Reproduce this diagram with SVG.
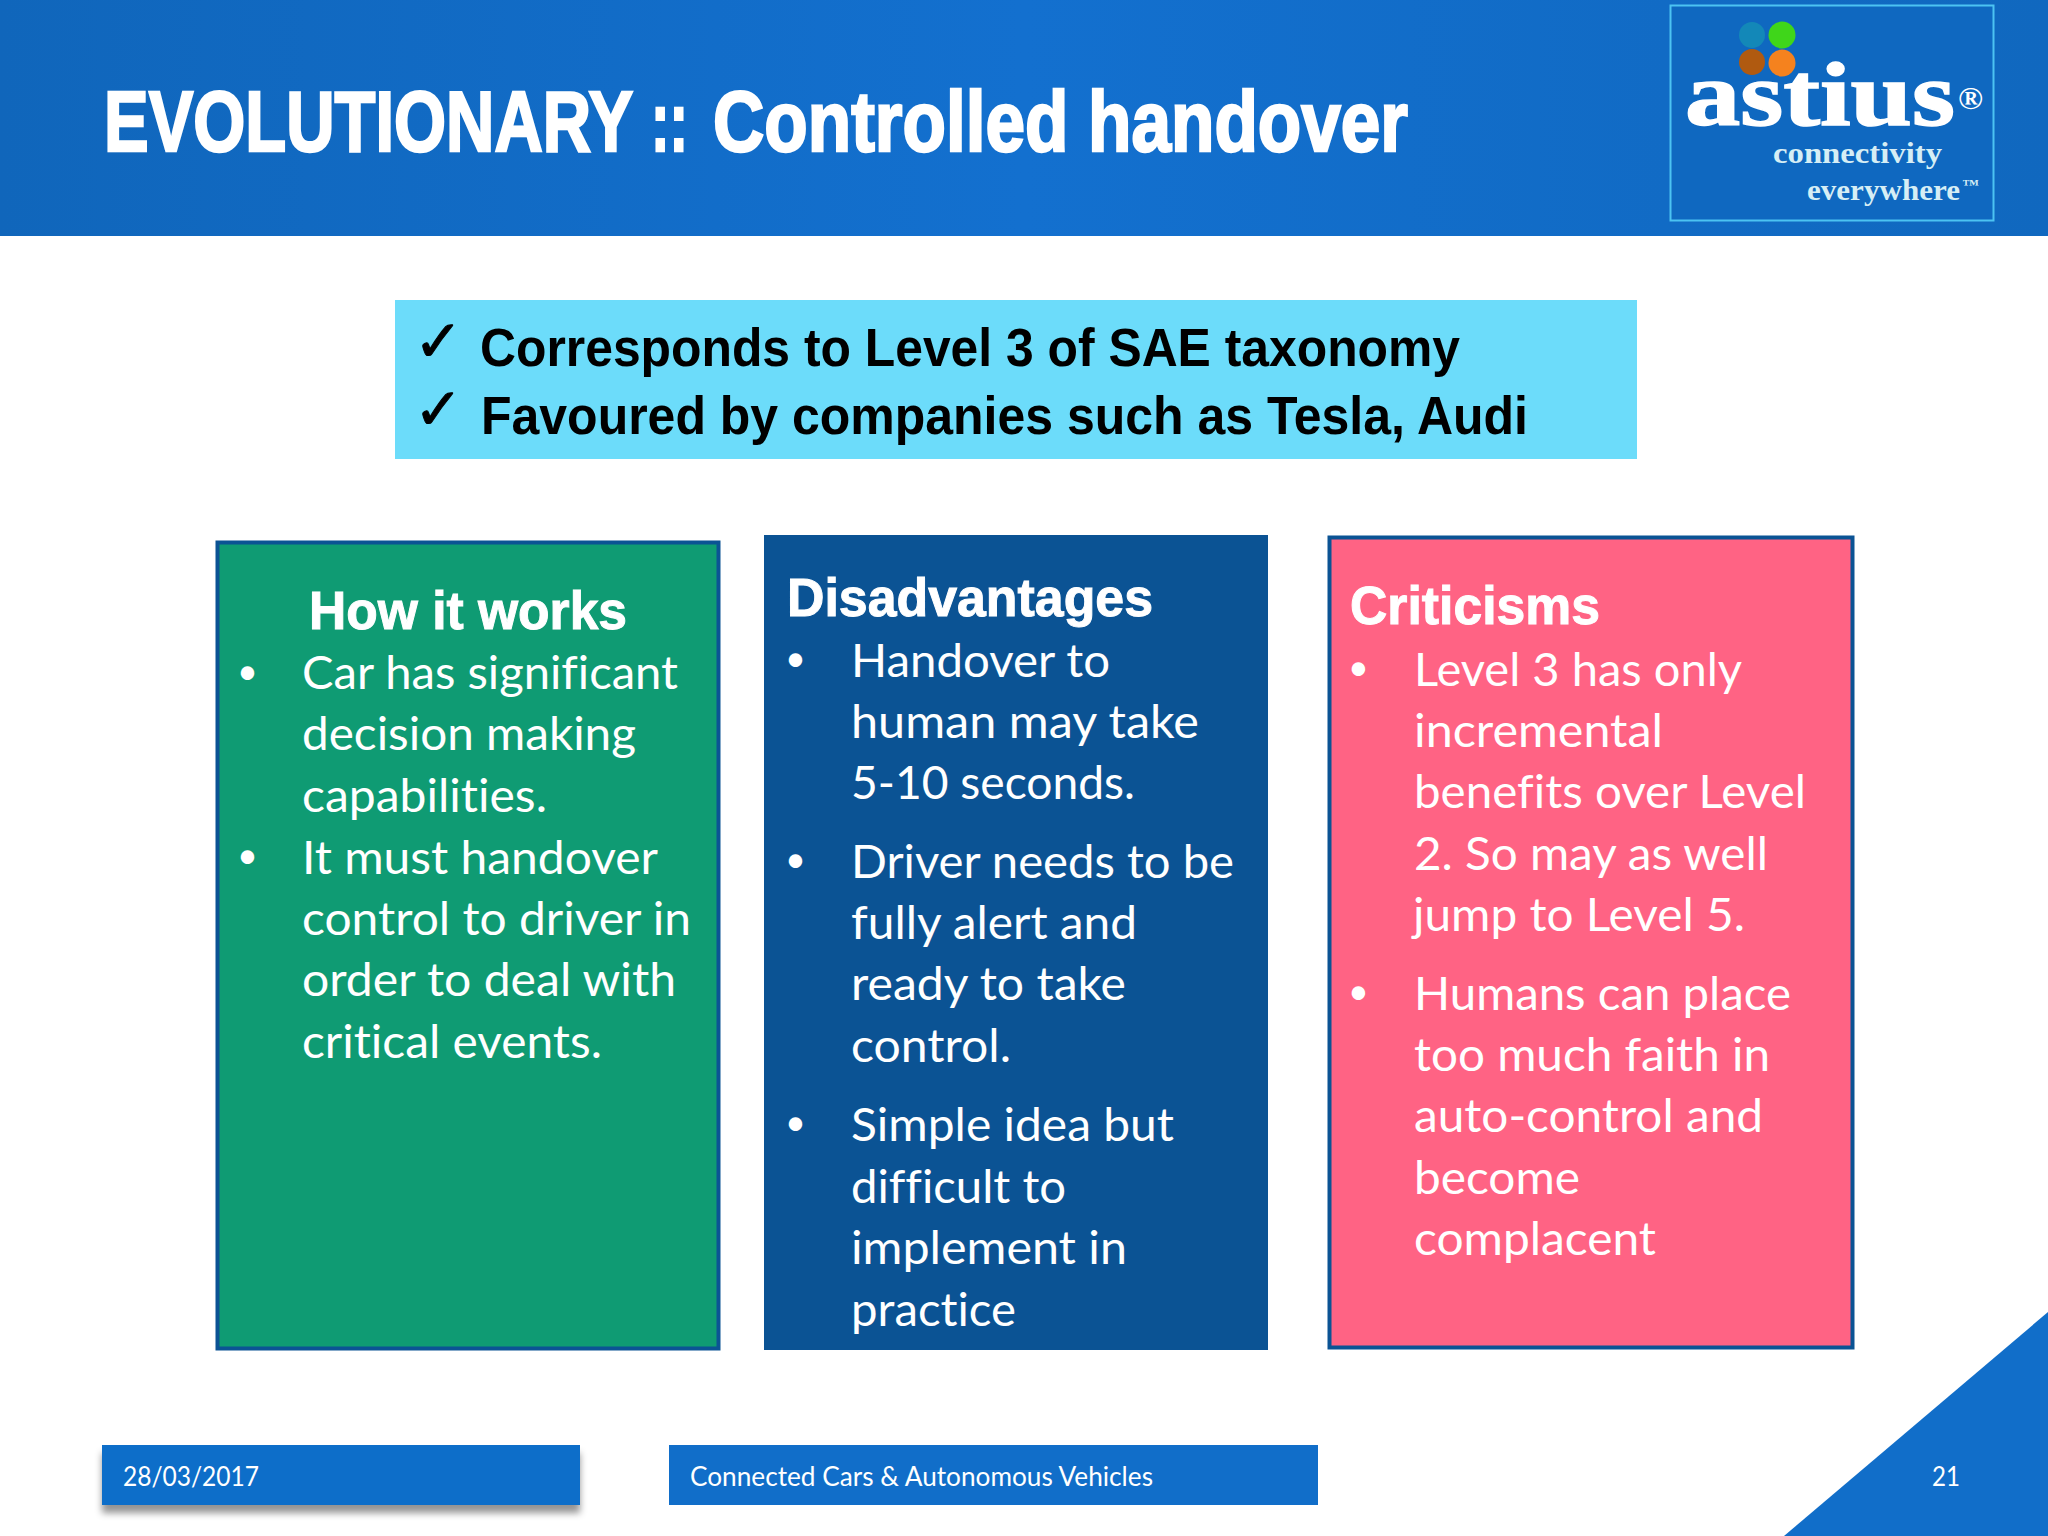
<svg xmlns="http://www.w3.org/2000/svg" width="2048" height="1536" viewBox="0 0 2048 1536">
<style>
text{font-variant-ligatures:none}
.b{font-family:Lato,"Open Sans",sans-serif;font-size:47px;fill:#fff}
.d{font-family:Lato,"Open Sans",sans-serif;font-size:36px;fill:#fff}
.h{font-family:"Liberation Sans",Arial,sans-serif;font-size:54px;font-weight:700;fill:#fff;stroke:#fff;stroke-width:1}
.t{font-family:"Liberation Sans Narrow","Liberation Sans",sans-serif;font-size:54px;font-weight:700;fill:#000}
.c{font-family:"DejaVu Sans",sans-serif;font-size:58px;fill:#000;stroke:#000;stroke-width:1}
.f{font-family:Lato,"Open Sans",sans-serif;font-size:26px;fill:#fff}
.l{font-family:"Liberation Serif",serif;font-weight:700}
</style>
<defs>
<linearGradient id="hg" x1="0" y1="0" x2="1" y2="0"><stop offset="0" stop-color="#1066bb"/><stop offset=".5" stop-color="#1370cf"/><stop offset="1" stop-color="#1068bf"/></linearGradient>
<filter id="sh" x="-5%" y="-20%" width="110%" height="160%"><feDropShadow dx="0" dy="8" stdDeviation="3.500" flood-color="#000" flood-opacity=".42"/></filter>
</defs>
<rect width="2048" height="1536" fill="#fff"/>
<g id="header">
<rect width="2048" height="236" fill="url(#hg)"/>
<text y="151" font-family="'Liberation Sans Narrow','Liberation Sans',sans-serif" font-size="85" font-weight="700" fill="#fff" stroke="#fff" stroke-width="2.500"><tspan x="104" textLength="528" lengthAdjust="spacingAndGlyphs">EVOLUTIONARY</tspan> <tspan x="651" textLength="37" lengthAdjust="spacingAndGlyphs">::</tspan> <tspan x="713" textLength="695" lengthAdjust="spacingAndGlyphs">Controlled handover</tspan></text>
</g>
<g id="logo">
<rect x="1670.500" y="5.500" width="323" height="215" fill="#0f68c0" stroke="#4cc3f2" stroke-width="2"/>
<circle cx="1752" cy="35" r="13" fill="#1388b8"/><circle cx="1782" cy="35" r="13.500" fill="#3fd61a"/>
<circle cx="1752" cy="62" r="13" fill="#b05a10"/><circle cx="1782" cy="63" r="13.500" fill="#f5821e"/>
<text class="l" x="1685" y="125" font-size="92" fill="#fff" stroke="#fff" stroke-width="1.500" textLength="270" lengthAdjust="spacingAndGlyphs">astius</text>
<text class="l" x="1958" y="109" font-size="32" fill="#fff" textLength="25" lengthAdjust="spacingAndGlyphs">®</text>
<text class="l" x="1773" y="163" font-size="29" fill="#d6eef5" textLength="169" lengthAdjust="spacingAndGlyphs">connectivity</text>
<text class="l" x="1807" y="200" font-size="29" fill="#d6eef5" textLength="153" lengthAdjust="spacingAndGlyphs">everywhere</text>
<text class="l" x="1962" y="189" font-size="14" fill="#d6eef5" textLength="17" lengthAdjust="spacingAndGlyphs">™</text>
</g>
<g id="summary">
<rect x="395" y="300" width="1242" height="159" fill="#6cdcfa"/>
<text class="c" x="414" y="361">✓</text>
<text class="t" x="480" y="366" textLength="980" lengthAdjust="spacingAndGlyphs">Corresponds to Level 3 of SAE taxonomy</text>
<text class="c" x="414" y="429">✓</text>
<text class="t" x="481" y="434" textLength="1047" lengthAdjust="spacingAndGlyphs">Favoured by companies such as Tesla, Audi</text>
</g>
<g id="how-it-works">
<rect x="217.500" y="542.500" width="501" height="806" fill="#0f9b73" stroke="#0b5394" stroke-width="4"/>
<text class="h" x="309" y="629" textLength="318" lengthAdjust="spacingAndGlyphs">How it works</text>
<text class="d" x="237" y="684">•</text>
<text class="b" x="302" y="689" textLength="376" lengthAdjust="spacingAndGlyphs">Car has significant</text>
<text class="b" x="302" y="750" textLength="334" lengthAdjust="spacingAndGlyphs">decision making</text>
<text class="b" x="302" y="812" textLength="245" lengthAdjust="spacingAndGlyphs">capabilities.</text>
<text class="d" x="237" y="868">•</text>
<text class="b" x="302" y="874" textLength="356" lengthAdjust="spacingAndGlyphs">It must handover</text>
<text class="b" x="302" y="935" textLength="389" lengthAdjust="spacingAndGlyphs">control to driver in</text>
<text class="b" x="302" y="996" textLength="374" lengthAdjust="spacingAndGlyphs">order to deal with</text>
<text class="b" x="302" y="1058" textLength="300" lengthAdjust="spacingAndGlyphs">critical events.</text>
</g>
<g id="disadvantages">
<rect x="764" y="535" width="504" height="815" fill="#0b5394"/>
<text class="h" x="787" y="616" textLength="366" lengthAdjust="spacingAndGlyphs">Disadvantages</text>
<text class="d" x="785" y="671">•</text>
<text class="b" x="851" y="677" textLength="259" lengthAdjust="spacingAndGlyphs">Handover to</text>
<text class="b" x="851" y="738" textLength="348" lengthAdjust="spacingAndGlyphs">human may take</text>
<text class="b" x="851" y="799" textLength="284" lengthAdjust="spacingAndGlyphs">5-10 seconds.</text>
<text class="d" x="785" y="872">•</text>
<text class="b" x="851" y="878" textLength="383" lengthAdjust="spacingAndGlyphs">Driver needs to be</text>
<text class="b" x="851" y="939" textLength="286" lengthAdjust="spacingAndGlyphs">fully alert and</text>
<text class="b" x="851" y="1000" textLength="275" lengthAdjust="spacingAndGlyphs">ready to take</text>
<text class="b" x="851" y="1062" textLength="160" lengthAdjust="spacingAndGlyphs">control.</text>
<text class="d" x="785" y="1135">•</text>
<text class="b" x="851" y="1141" textLength="323" lengthAdjust="spacingAndGlyphs">Simple idea but</text>
<text class="b" x="851" y="1203" textLength="215" lengthAdjust="spacingAndGlyphs">difficult to</text>
<text class="b" x="851" y="1264" textLength="276" lengthAdjust="spacingAndGlyphs">implement in</text>
<text class="b" x="851" y="1326" textLength="165" lengthAdjust="spacingAndGlyphs">practice</text>
</g>
<g id="criticisms">
<rect x="1329.500" y="537.500" width="523" height="810" fill="#ff6384" stroke="#0b5394" stroke-width="4"/>
<text class="h" x="1350" y="624" textLength="250" lengthAdjust="spacingAndGlyphs">Criticisms</text>
<text class="d" x="1348" y="680">•</text>
<text class="b" x="1414" y="686" textLength="328" lengthAdjust="spacingAndGlyphs">Level 3 has only</text>
<text class="b" x="1414" y="747" textLength="249" lengthAdjust="spacingAndGlyphs">incremental</text>
<text class="b" x="1414" y="808" textLength="392" lengthAdjust="spacingAndGlyphs">benefits over Level</text>
<text class="b" x="1414" y="870" textLength="354" lengthAdjust="spacingAndGlyphs">2. So may as well</text>
<text class="b" x="1413" y="931" textLength="332" lengthAdjust="spacingAndGlyphs">jump to Level 5.</text>
<text class="d" x="1348" y="1004">•</text>
<text class="b" x="1414" y="1010" textLength="377" lengthAdjust="spacingAndGlyphs">Humans can place</text>
<text class="b" x="1414" y="1071" textLength="356" lengthAdjust="spacingAndGlyphs">too much faith in</text>
<text class="b" x="1414" y="1132" textLength="349" lengthAdjust="spacingAndGlyphs">auto-control and</text>
<text class="b" x="1414" y="1194" textLength="166" lengthAdjust="spacingAndGlyphs">become</text>
<text class="b" x="1414" y="1255" textLength="242" lengthAdjust="spacingAndGlyphs">complacent</text>
</g>
<g id="footer-date">
<rect x="102" y="1445" width="478" height="60" fill="#116ec9" filter="url(#sh)"/>
<text class="f" x="123" y="1486" textLength="136" lengthAdjust="spacingAndGlyphs">28/03/2017</text>
</g>
<g id="footer-title">
<rect x="669" y="1445" width="649" height="60" fill="#116ec9"/>
<text class="f" x="690" y="1486" textLength="463" lengthAdjust="spacingAndGlyphs">Connected Cars &amp; Autonomous Vehicles</text>
</g>
<g id="footer-page">
<polygon points="1784,1536 2048,1312 2048,1536" fill="#116ec9"/>
<text class="f" x="1932" y="1486" textLength="28" lengthAdjust="spacingAndGlyphs">21</text>
</g>
<g id="connectors"/>
</svg>
